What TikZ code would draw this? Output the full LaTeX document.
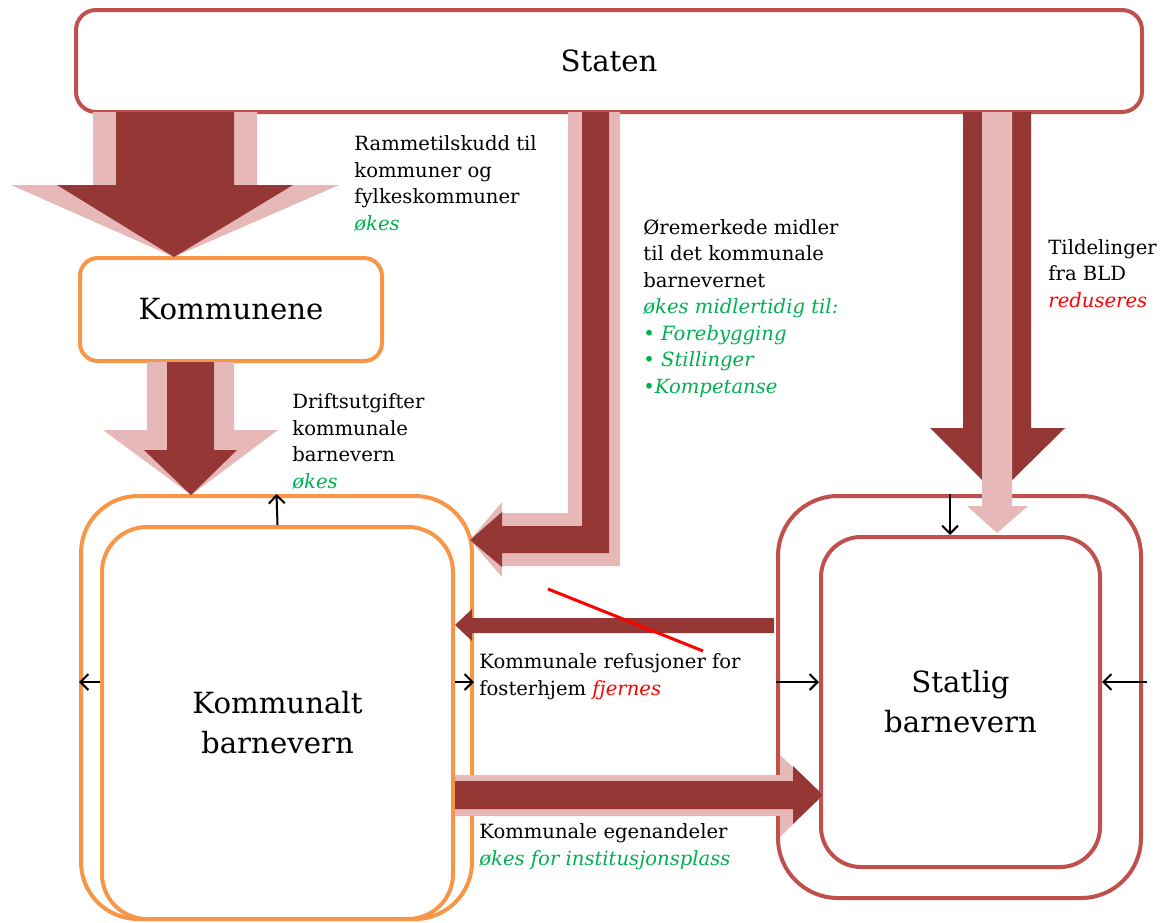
\documentclass[tikz,border=0pt]{standalone}
\usepackage{fontspec}
\setmainfont{DejaVu Serif}
\usetikzlibrary{arrows.meta}
\definecolor{boxred}{HTML}{C0504D}
\definecolor{darkred}{HTML}{953735}
\definecolor{lightred}{HTML}{E6B9B8}
\definecolor{boxorange}{HTML}{F79646}
\definecolor{upgreen}{HTML}{00B050}

\begin{document}
\begin{tikzpicture}[x=0.5pt, y=-0.5pt, >={Straight Barb[length=4pt,width=8pt]},
    box/.style={draw, line width=2pt, align=center, inner sep=0pt, font=\fontsize{14.6}{20}\selectfont},
    lab/.style={anchor=base west, align=left, inner sep=0pt, font=\fontsize{9.8}{13.25}\selectfont},
    small/.style={->, line width=1pt}]
    \useasboundingbox (0,0) rectangle (1162,922);

    \node[box, draw=boxred, minimum width=533pt, minimum height=51pt, rounded corners=10pt] (staten) at (609,61) {Staten};
    \node[box, draw=boxorange, minimum width=151pt, minimum height=51.5pt, rounded corners=9pt] (kommunene) at (231,309.5) {Kommunene};
    \node[box, draw=boxorange, minimum width=195.5pt, minimum height=211.5pt, rounded corners=28.5pt] (kbo) at (276.5,707.5) {};
    \node[box, draw=boxorange, minimum width=175.5pt, minimum height=196pt, rounded corners=22.5pt] (kbi) at (277.5,723) {Kommunalt\\barnevern};
    \node[box, draw=boxred, minimum width=181.5pt, minimum height=201pt, rounded corners=30pt] (sbo) at (959.5,697) {};
    \node[box, draw=boxred, minimum width=139.5pt, minimum height=165pt, rounded corners=20pt] (sbi) at (960.5,702) {Statlig\\barnevern};

    % rammetilskudd
    \fill[lightred] (93,112) -- (257,112) -- (257,185) -- (339,185) -- (174,257) -- (11,185) -- (93,185) -- cycle;
    \fill[darkred] (116,112) -- (234,112) -- (234,185) -- (293,185) -- (174,257) -- (57,185) -- (116,185) -- cycle;
    % driftsutgifter
    \fill[lightred] (147,362) -- (234,362) -- (234,430) -- (278,430) -- (191,495) -- (103,430) -- (147,430) -- cycle;
    \fill[darkred] (167,362) -- (214,362) -- (214,450) -- (237,450) -- (191,495) -- (144,450) -- (167,450) -- cycle;
    % oremerkede midler
    \fill[lightred] (568,112) -- (620,112) -- (620,566) -- (502,566) -- (502,577) -- (470,540) -- (502,502) -- (502,513) -- (568,513) -- cycle;
    \fill[darkred] (582,112) -- (609,112) -- (609,553) -- (502,553) -- (502,567) -- (470,540) -- (502,512) -- (502,526) -- (582,526) -- cycle;
    % tildelinger
    \fill[darkred] (963,112) -- (1031,112) -- (1031,428) -- (1065,428) -- (997,495) -- (930,428) -- (963,428) -- cycle;
    \fill[lightred] (982,112) -- (1012,112) -- (1012,506) -- (1028,506) -- (997,533) -- (967,506) -- (982,506) -- cycle;
    % refusjoner
    \fill[darkred] (774,618) -- (472,618) -- (472,609) -- (455,625) -- (472,641) -- (472,633) -- (774,633) -- cycle;
    \draw[red, line width=1.5pt] (548,589) -- (703,651);
    % egenandeler
    \fill[lightred] (455,775) -- (780,775) -- (780,755) -- (823,795) -- (780,837) -- (780,816) -- (455,816) -- cycle;
    \fill[darkred] (455,781) -- (793,781) -- (793,766) -- (823,795) -- (793,824) -- (793,809) -- (455,809) -- cycle;

    \coordinate (side) at (0,682);
    \coordinate (dn) at (950,0);
    \coordinate (ute) at (1147,682);
    \draw[small] (kbi.north) -- (kbo.north);
    \draw[small] (kbi.west |- side) -- (kbo.west |- side);
    \draw[small] (kbi.east |- side) -- (kbo.east |- side);
    \draw[small] (sbo.west |- side) -- (sbi.west |- side);
    \draw[small] (ute) -- (sbi.east |- side);
    \draw[small] (sbo.north -| dn) -- (sbi.north -| dn);

    \node[lab] (ramme) at (354,230) {Rammetilskudd til\\kommuner og\\fylkeskommuner\\{\color{upgreen}\itshape økes}};
    \node[lab] (oremerk) at (643,393) {Øremerkede midler\\til det kommunale\\barnevernet\\{\color{upgreen}\itshape økes midlertidig til:}\\{\color{upgreen}\itshape • Forebygging}\\{\color{upgreen}\itshape • Stillinger}\\{\color{upgreen}\itshape •Kompetanse}};
    \node[lab] (tildel) at (1048,307) {Tildelinger\\fra BLD\\{\color{red}\itshape reduseres}};
    \node[lab] (drift) at (292,488) {Driftsutgifter\\kommunale\\barnevern\\{\color{upgreen}\itshape økes}};
    \node[lab] (refusj) at (479,695) {Kommunale refusjoner for\\fosterhjem {\color{red}\itshape fjernes}};
    \node[lab] (egen) at (479,865) {Kommunale egenandeler\\{\color{upgreen}\itshape økes for institusjonsplass}};
\end{tikzpicture}
\end{document}
